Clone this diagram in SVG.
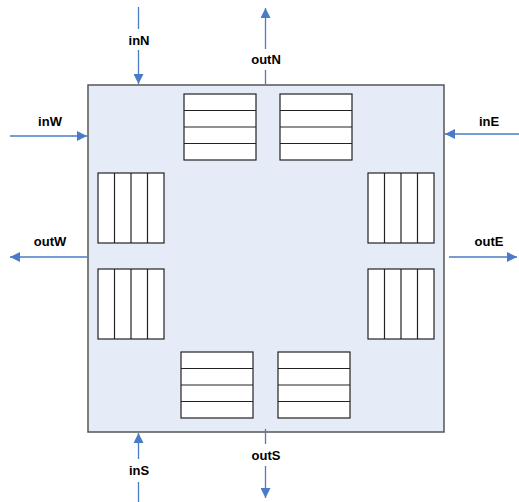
<svg xmlns="http://www.w3.org/2000/svg" width="519" height="502" viewBox="0 0 519 502">
<style>
.box{fill:#E6ECF7;stroke:#555;stroke-width:1.5}
.q{fill:#fff;stroke:#222;stroke-width:1.2}
.c{stroke:#4A7CC6;stroke-width:1.3;fill:none}
.lbl{font-family:"Liberation Sans",Arial,sans-serif;font-size:13px;font-weight:bold;fill:#000;text-anchor:middle}
</style>
<defs>
<marker id="ah" viewBox="0 0 10 10" refX="10" refY="5" markerWidth="10" markerHeight="10" markerUnits="userSpaceOnUse" orient="auto"><path d="M0,0 L10,5 L0,10 Z" fill="#4A7CC6"/></marker>
</defs>
<rect width="519" height="502" fill="#fff"/>
<g id="router"><rect class="box" x="88" y="85" width="356" height="347"/></g>
<g id="q_top1"><rect class="q" x="184" y="94" width="72" height="66"/><path class="q" d="M184,110.5H256M184,127H256M184,143.5H256"/></g>
<g id="q_top2"><rect class="q" x="280" y="94" width="72" height="66"/><path class="q" d="M280,110.5H352M280,127H352M280,143.5H352"/></g>
<g id="q_bot1"><rect class="q" x="181" y="352" width="72" height="66"/><path class="q" d="M181,368.5H253M181,385H253M181,401.5H253"/></g>
<g id="q_bot2"><rect class="q" x="278" y="352" width="72" height="66"/><path class="q" d="M278,368.5H350M278,385H350M278,401.5H350"/></g>
<g id="q_left1"><rect class="q" x="98" y="173" width="66" height="70"/><path class="q" d="M114.5,173V243M131,173V243M147.5,173V243"/></g>
<g id="q_left2"><rect class="q" x="98" y="269" width="66" height="70"/><path class="q" d="M114.5,269V339M131,269V339M147.5,269V339"/></g>
<g id="q_right1"><rect class="q" x="368" y="173" width="66" height="70"/><path class="q" d="M384.5,173V243M401,173V243M417.5,173V243"/></g>
<g id="q_right2"><rect class="q" x="368" y="269" width="66" height="70"/><path class="q" d="M384.5,269V339M401,269V339M417.5,269V339"/></g>
<g id="connectors">
<line class="c" x1="138.5" y1="7" x2="138.5" y2="29"/>
<line class="c" x1="138.5" y1="50" x2="138.5" y2="84" marker-end="url(#ah)"/>
<line class="c" x1="265.5" y1="84" x2="265.5" y2="70"/>
<line class="c" x1="265.5" y1="49" x2="265.5" y2="8" marker-end="url(#ah)"/>
<line class="c" x1="10" y1="136" x2="87" y2="136" marker-end="url(#ah)"/>
<line class="c" x1="519" y1="134" x2="445" y2="134" marker-end="url(#ah)"/>
<line class="c" x1="87" y1="257" x2="10" y2="257" marker-end="url(#ah)"/>
<line class="c" x1="449" y1="257" x2="517" y2="257" marker-end="url(#ah)"/>
<line class="c" x1="265.5" y1="429" x2="265.5" y2="444"/>
<line class="c" x1="265.5" y1="466" x2="265.5" y2="498" marker-end="url(#ah)"/>
<line class="c" x1="138.5" y1="502" x2="138.5" y2="482"/>
<line class="c" x1="138.5" y1="459" x2="138.5" y2="433" marker-end="url(#ah)"/>
</g>
<g id="labels">
<text class="lbl" x="139" y="45">inN</text>
<text class="lbl" x="266" y="64">outN</text>
<text class="lbl" x="50" y="126">inW</text>
<text class="lbl" x="489" y="126">inE</text>
<text class="lbl" x="50" y="246">outW</text>
<text class="lbl" x="489" y="246">outE</text>
<text class="lbl" x="266" y="460">outS</text>
<text class="lbl" x="139" y="475">inS</text>
</g>
</svg>
